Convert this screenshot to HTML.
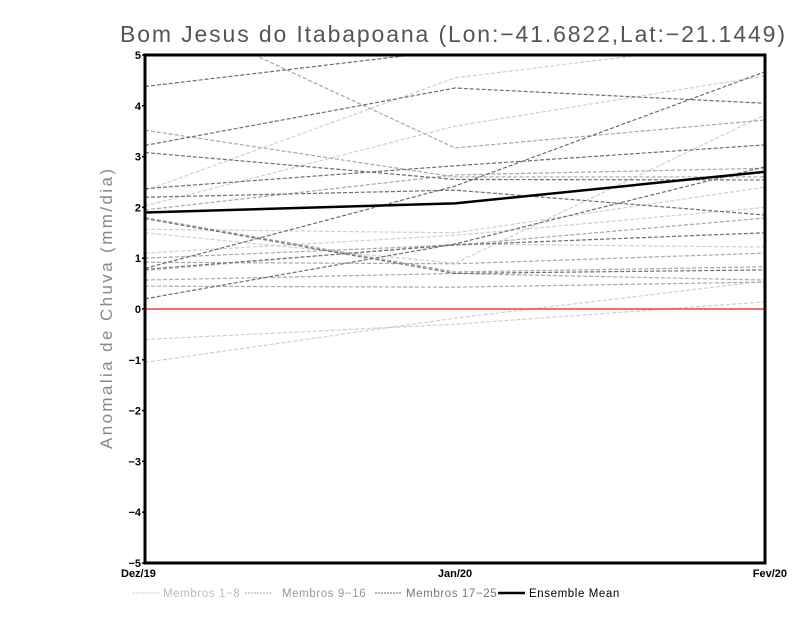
<!DOCTYPE html>
<html><head><meta charset="utf-8"><style>
body{margin:0;background:#fff;width:800px;height:618px;overflow:hidden}
svg{display:block;font-family:"Liberation Sans",sans-serif}
</style></head><body>
<svg id="c" width="800" height="618">
<text x="120" y="42" textLength="665" lengthAdjust="spacing" font-size="23" fill="#555">Bom Jesus do Itabapoana (Lon:−41.6822,Lat:−21.1449)</text>
<text transform="translate(112,449) rotate(-90)" textLength="280" lengthAdjust="spacing" font-size="17" fill="#888">Anomalia de Chuva (mm/dia)</text>
<defs><clipPath id="pc"><rect x="145" y="55" width="620" height="508"/></clipPath></defs>
<g id="series" clip-path="url(#pc)"></g>
<g id="axes"></g>
<g id="legend"></g>
</svg>
<script>
const categories=["Dez/19","Jan/20","Fev/20"];
const yTicks=[-5,-4,-3,-2,-1,0,1,2,3,4,5];
const membersLight=[[2.33,4.55,5.3],[2.03,3.6,4.59],[1.57,1.5,2.4],[1.1,1.45,2.0],[0.75,1.28,1.22],[-0.6,-0.3,0.14],[-1.05,-0.18,0.55],[1.5,0.9,3.82]];
const membersMedium=[[6.0,3.17,3.72],[3.52,2.6,2.6],[1.95,2.64,2.77],[1.8,0.73,0.83],[1.0,1.26,1.79],[0.92,0.89,1.1],[0.57,0.7,0.57],[0.45,0.43,0.53]];
const membersDark=[[4.38,5.1,5.6],[3.22,4.35,4.05],[3.08,2.55,2.54],[2.37,2.82,3.23],[2.2,2.34,1.85],[0.8,2.42,4.67],[0.78,1.26,1.5],[1.78,0.7,0.77],[0.2,1.28,2.8]];
const ensembleMean=[1.9,2.08,2.7];
const X0=145,X1=765,Y0=55,Y1=563;
const xs=i=>X0+(X1-X0)*i/(categories.length-1);
const ys=v=>Y1-(v+5)/10*(Y1-Y0);
const NS="http://www.w3.org/2000/svg";
function mk(t,a,p){const e=document.createElementNS(NS,t);for(const k in a)e.setAttribute(k,a[k]);p.appendChild(e);return e;}
const S=document.getElementById('series'),A=document.getElementById('axes'),L=document.getElementById('legend');
function pts(arr){return arr.map((v,i)=>xs(i)+','+ys(v)).join(' ');}
[[membersLight,'#cfcfcf','light'],[membersMedium,'#a8a8a8','medium'],[membersDark,'#6e6e6e','dark']].forEach(([g,c,n])=>{
 g.forEach((m,j)=>{const e=mk('polyline',{points:pts(m),fill:'none',stroke:c,'stroke-width':1.2,'stroke-dasharray':'4,2'},S);
 
 });
});
const z=mk('line',{x1:X0,x2:X1,y1:ys(0),y2:ys(0),stroke:'#f04040','stroke-width':1.5},S);


const me=mk('polyline',{points:pts(ensembleMean),fill:'none',stroke:'#000','stroke-width':2.5},S);


const fr=mk('rect',{x:X0,y:Y0,width:X1-X0,height:Y1-Y0,fill:'none',stroke:'#000','stroke-width':3},A);


yTicks.forEach(v=>{const t=mk('text',{x:X0-4,y:ys(v)+4,'text-anchor':'end','font-size':11,'font-weight':'bold',fill:'#000'},A);t.textContent=v<0?'−'+(-v):v;


mk('line',{x1:X0-3,x2:X0,y1:ys(v),y2:ys(v),stroke:'#000','stroke-width':1.5},A);});
categories.forEach((c,i)=>{const t=mk('text',{x:xs(i),y:Y1+14,'text-anchor':i==0?'start':i==2?'end':'middle','font-size':11,'font-weight':'bold',fill:'#000'},A);
if(i==0)t.setAttribute('x',X0-24);
if(i==2)t.setAttribute('x',X1+22);
t.textContent=c;

});
const leg=[['#cfcfcf','Membros 1−8',133,163,'#bbb',true],['#a8a8a8','Membros 9−16',245,282,'#999',true],['#6e6e6e','Membros 17−25',375,406,'#777',true],['#000','Ensemble Mean',498,529,'#000',false]];
leg.forEach(([c,t,x,tx0,tc,d])=>{const g=mk('g',{},L);


mk('line',{x1:x,x2:x+27,y1:593,y2:593,stroke:c,'stroke-width':d?1:2.5,'stroke-dasharray':d?'2,1':'none'},g);
const tx=mk('text',{x:tx0,y:597,'font-size':11.5,fill:tc,'letter-spacing':0.6},g);tx.textContent=t;});
</script>
</body></html>
